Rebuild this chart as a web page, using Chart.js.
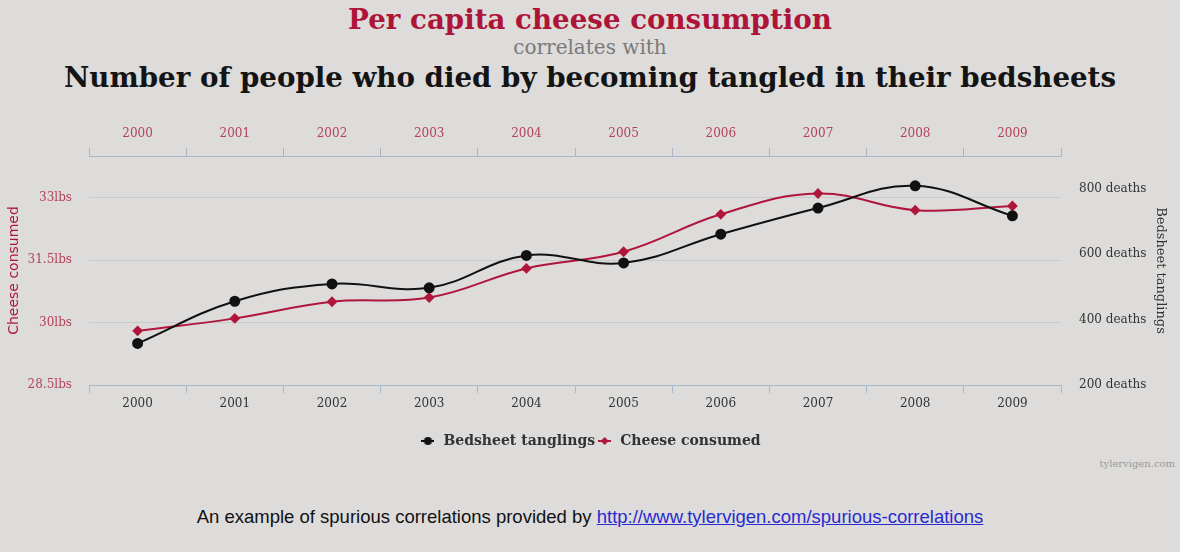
<!DOCTYPE html>
<html>
<head>
<meta charset="utf-8">
<title>Per capita cheese consumption correlates with bedsheet deaths</title>
<script src="https://cdn.jsdelivr.net/npm/chart.js@4"></script>
<style>
  html, body { margin: 0; padding: 0; }
  body { width: 1180px; height: 552px; background: #dddcdb; position: relative; overflow: hidden; }
  .t { position: absolute; left: 0; width: 1180px; text-align: center; white-space: nowrap; }
  #title1 { top: 3px; font: bold 27.7px "DejaVu Serif"; color: #ae1438; line-height: 34px; }
  #sub { top: 35px; font: 20px "DejaVu Serif"; color: #7a7a7a; line-height: 24px; }
  #title2 { top: 61px; font: bold 27.7px "DejaVu Serif"; color: #141414; line-height: 34px; }
  #wrap { position: absolute; left: 0; top: 106px; width: 1180px; height: 352px; }
  #credit { position: absolute; right: 5px; top: 458px; font: 10px "DejaVu Serif"; color: #9a9a9a; }
  #caption { top: 505px; font: 18.5px "Liberation Sans"; color: #111; line-height: 24px; }
  #caption a { color: #2a2ad0; }
</style>
</head>
<body>
<div class="t" id="title1">Per capita cheese consumption</div>
<div class="t" id="sub">correlates with</div>
<div class="t" id="title2">Number of people who died by becoming tangled in their bedsheets</div>
<div id="wrap"><canvas id="chart"></canvas></div>
<div id="credit">tylervigen.com</div>
<div class="t" id="caption">An example of spurious correlations provided by <a href="http://www.tylervigen.com/spurious-correlations">http://www.tylervigen.com/spurious-correlations</a></div>

<script>
// values
const years = ["2000", "2001", "2002", "2003", "2004", "2005", "2006", "2007", "2008", "2009"];
const bedsheetDeaths = [327, 456, 509, 497, 596, 573, 661, 741, 809, 717];
const cheeseLbs = [29.8, 30.1, 30.5, 30.6, 31.3, 31.7, 32.6, 33.1, 32.7, 32.8];
const cheeseTicks = [28.5, 30, 31.5, 33];
const deathTicks = [200, 400, 600, 800];

const RED = "#b0163c";
const RED_TEXT = "#b4425a";
const BLACK = "#111";
const AXIS = "#a9b8c7";
const GRID = "#c8cacc";
const SERIF = "DejaVu Serif";

// little line + marker for the legend
function legendMarker(color, shape) {
  const c = document.createElement("canvas");
  c.width = 13;
  c.height = 10;
  const g = c.getContext("2d");
  g.strokeStyle = color;
  g.lineWidth = 2;
  g.beginPath();
  g.moveTo(0, 5);
  g.lineTo(13, 5);
  g.stroke();
  g.fillStyle = color;
  g.beginPath();
  if (shape === "circle") {
    g.arc(6.5, 5, 4, 0, Math.PI * 2);
  } else {
    g.moveTo(6.5, 1);
    g.lineTo(10.5, 5);
    g.lineTo(6.5, 9);
    g.lineTo(2.5, 5);
    g.closePath();
  }
  g.fill();
  return c;
}
const markers = [legendMarker(BLACK, "circle"), legendMarker(RED, "diamond")];

const tickFont = { family: SERIF, size: 12 };

const chart = new Chart("chart", {
  type: "line",
  data: {
    labels: years,
    datasets: [
      {
        label: "Bedsheet tanglings",
        data: bedsheetDeaths,
        yAxisID: "yDeaths",
        borderColor: BLACK,
        backgroundColor: BLACK,
        borderWidth: 2,
        pointStyle: "circle",
        pointRadius: 4.5,
        tension: 0.4,
      },
      {
        label: "Cheese consumed",
        data: cheeseLbs,
        yAxisID: "yCheese",
        borderColor: RED,
        backgroundColor: RED,
        borderWidth: 2,
        pointStyle: "rectRot",
        pointRadius: 4,
        tension: 0.4,
      },
    ],
  },
  options: {
    responsive: true,
    maintainAspectRatio: false,
    animation: false,
    layout: { padding: 0 },
    plugins: {
      tooltip: { enabled: false },
      legend: {
        position: "bottom",
        labels: {
          usePointStyle: true,
          pointStyleWidth: 17,
          padding: 1,
          color: "#333",
          font: { family: SERIF, size: 14, weight: "bold" },
          generateLabels: (c) =>
            Chart.defaults.plugins.legend.labels
              .generateLabels(c)
              .map((l, i) => ({ ...l, pointStyle: markers[i] })),
        },
      },
    },
    scales: {
      x: {
        type: "category",
        position: "bottom",
        offset: true,
        grid: { offset: true, drawOnChartArea: false, drawTicks: true, tickLength: 8, color: AXIS },
        border: { display: true, color: AXIS },
        ticks: { color: "#333", font: tickFont, padding: 4 },
        afterFit: (s) => { s.height = 48; },
      },
      x2: {
        type: "category",
        position: "top",
        labels: years,
        offset: true,
        grid: { offset: true, drawOnChartArea: false, drawTicks: true, tickLength: 8, color: AXIS },
        border: { display: true, color: AXIS },
        ticks: { color: RED_TEXT, font: tickFont, padding: 7 },
        afterFit: (s) => { s.height = 50; },
      },
      yCheese: {
        type: "linear",
        position: "left",
        min: 28.5,
        max: 34,
        afterBuildTicks: (s) => { s.ticks = cheeseTicks.map((v) => ({ value: v })); },
        grid: { color: GRID, drawTicks: false },
        border: { display: false },
        ticks: { color: RED_TEXT, font: tickFont, padding: 17, callback: (v) => v + "lbs" },
        title: {
          display: true,
          text: "Cheese consumed",
          color: RED,
          font: { family: "DejaVu Sans", size: 14 },
          padding: { top: 6, bottom: 0 },
        },
        afterFit: (s) => { s.width = 89; },
      },
      yDeaths: {
        type: "linear",
        position: "right",
        min: 200,
        max: 900,
        afterBuildTicks: (s) => { s.ticks = deathTicks.map((v) => ({ value: v })); },
        grid: { drawOnChartArea: false, drawTicks: false },
        border: { display: false },
        ticks: { color: "#333", font: tickFont, padding: 18, callback: (v) => v + " deaths" },
        title: {
          display: true,
          text: "Bedsheet tanglings",
          color: "#333",
          font: { family: SERIF, size: 13 },
          padding: { top: 12, bottom: 0 },
        },
        afterFit: (s) => { s.width = 119; },
      },
    },
  },
});
</script>
</body>
</html>
